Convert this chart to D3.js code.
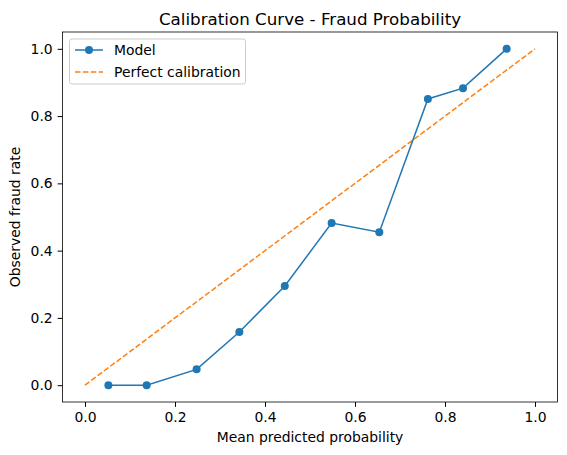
<!DOCTYPE html>
<html><head><meta charset="utf-8">
<script src="https://cdn.jsdelivr.net/npm/d3@7"></script>
<style>body{margin:0;background:#fff}text{font-family:"DejaVu Sans",sans-serif}</style>
</head><body><svg id="c" width="567" height="455"></svg>
<script>
const meanPred = [0.052,0.137,0.248,0.343,0.444,0.548,0.654,0.762,0.84,0.937];
const observed = [0.0,0.0,0.047,0.158,0.295,0.482,0.455,0.851,0.883,1.0];
const perfect = [0,1];
const ticks = [0,0.2,0.4,0.6,0.8,1.0];

const svg = d3.select("#c");
const L=62.5,R=557.5,T=32,B=402;
const x=d3.scaleLinear().domain([-0.05,1.05]).range([L,R]);
const y=d3.scaleLinear().domain([-0.05,1.05]).range([B,T]);

const xa=svg.append("g").attr("transform",`translate(0,${B})`).call(d3.axisBottom(x).tickValues(ticks).tickFormat(d3.format(".1f")).tickSizeOuter(0).tickSize(4.9).tickPadding(4.9));
const ya=svg.append("g").attr("transform",`translate(${L},0)`).call(d3.axisLeft(y).tickValues(ticks).tickFormat(d3.format(".1f")).tickSizeOuter(0).tickSize(4.9).tickPadding(4.9));
[xa,ya].forEach(a=>{a.select(".domain").remove();a.selectAll("text").attr("font-size",13.9).attr("fill","#000");a.selectAll("line").attr("stroke","#000");});
svg.append("rect").attr("x",L).attr("y",T).attr("width",R-L).attr("height",B-T).attr("fill","none").attr("stroke","#000").attr("stroke-width",0.8);

svg.append("path").attr("d",d3.line()(perfect.map(v=>[x(v),y(v)]))).attr("stroke","#ff7f0e").attr("stroke-width",1.5).attr("stroke-dasharray","5.5,2.4").attr("fill","none");
svg.append("path").attr("d",d3.line()(meanPred.map((v,i)=>[x(v),y(observed[i])]))).attr("stroke","#1f77b4").attr("stroke-width",1.5).attr("fill","none");
svg.selectAll("circle.p").data(meanPred).enter().append("circle").attr("cx",d=>x(d)).attr("cy",(d,i)=>y(observed[i])).attr("r",4).attr("fill","#1f77b4");

svg.append("text").attr("x",(L+R)/2).attr("y",T-7).attr("text-anchor","middle").attr("font-size",16.7).text("Calibration Curve - Fraud Probability");
svg.append("text").attr("x",(L+R)/2).attr("y",442).attr("text-anchor","middle").attr("font-size",13.9).text("Mean predicted probability");
svg.append("text").attr("transform",`translate(20,${(T+B)/2}) rotate(-90)`).attr("text-anchor","middle").attr("font-size",13.9).text("Observed fraud rate");

const lg=svg.append("g");
lg.append("rect").attr("x",69.5).attr("y",39).attr("width",176).attr("height",45).attr("rx",2.5).attr("fill","#fff").attr("fill-opacity",0.8).attr("stroke","#ccc");
lg.append("line").attr("x1",75).attr("x2",103).attr("y1",50).attr("y2",50).attr("stroke","#1f77b4").attr("stroke-width",1.5);
lg.append("circle").attr("cx",89).attr("cy",50).attr("r",4).attr("fill","#1f77b4");
lg.append("text").attr("x",114).attr("y",55).attr("font-size",13.9).text("Model");
lg.append("line").attr("x1",75).attr("x2",103).attr("y1",72).attr("y2",72).attr("stroke","#ff7f0e").attr("stroke-width",1.5).attr("stroke-dasharray","5.5,2.4");
lg.append("text").attr("x",114).attr("y",77).attr("font-size",13.9).text("Perfect calibration");
</script></body></html>
